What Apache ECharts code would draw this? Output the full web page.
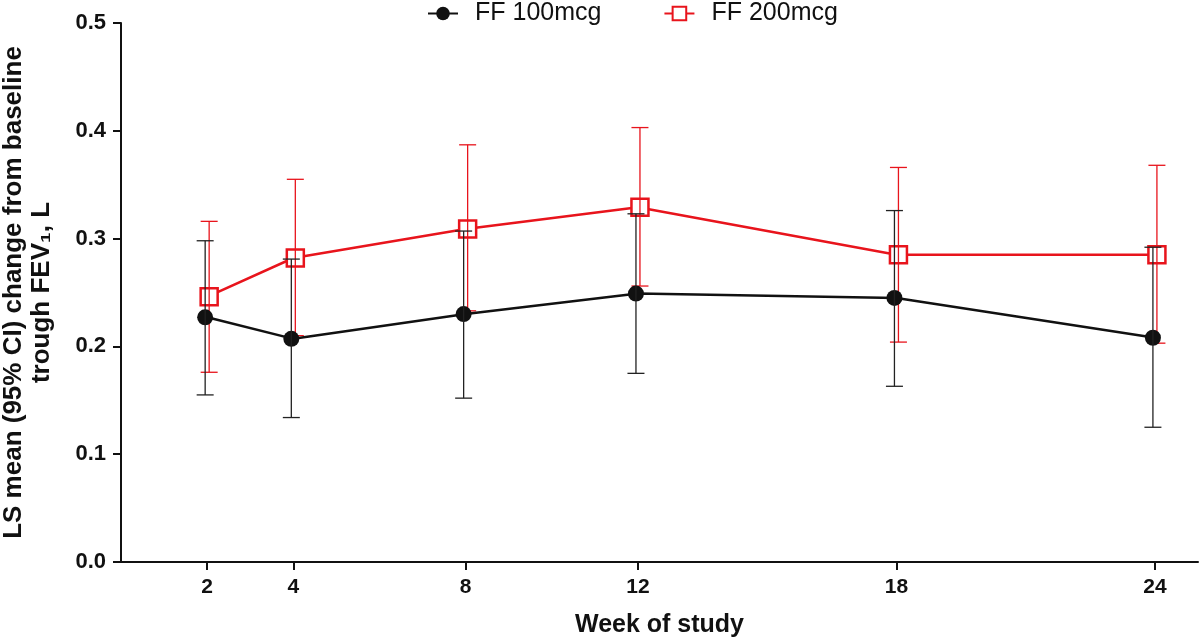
<!DOCTYPE html>
<html>
<head>
<meta charset="utf-8">
<script src="https://cdn.jsdelivr.net/npm/echarts@6/dist/echarts.min.js"></script>
<style>
html,body{margin:0;padding:0;background:#fff;}
#chart{width:1200px;height:644px;}
</style>
</head>
<body>
<div id="chart"></div>
<script>
const weeks = [2, 4, 8, 12, 18, 24];
const ff100Mean  = [0.227, 0.207, 0.230, 0.249, 0.245, 0.208];
const ff100Lower = [0.155, 0.134, 0.152, 0.175, 0.163, 0.125];
const ff100Upper = [0.298, 0.281, 0.307, 0.323, 0.326, 0.292];
const ff200Mean  = [0.246, 0.282, 0.309, 0.329, 0.285, 0.285];
const ff200Lower = [0.176, 0.210, 0.233, 0.256, 0.204, 0.203];
const ff200Upper = [0.316, 0.355, 0.387, 0.403, 0.366, 0.368];
const yTicks = [0.0, 0.1, 0.2, 0.3, 0.4, 0.5];

const FONT = '"Liberation Sans", Arial, Helvetica, sans-serif';
const RED = '#e8141c';
const BLACK = '#111';

function errRender(color, offset) {
  return function (params, api) {
    const lo = api.coord([api.value(0), api.value(1)]);
    const hi = api.coord([api.value(0), api.value(2)]);
    const cx = lo[0] + offset;
    const half = 8.5;
    const st = { stroke: color, lineWidth: 1.3 };
    return {
      type: 'group',
      children: [
        { type: 'line', shape: { x1: cx, y1: lo[1], x2: cx, y2: hi[1] }, style: st },
        { type: 'line', shape: { x1: cx - half, y1: hi[1], x2: cx + half, y2: hi[1] }, style: st },
        { type: 'line', shape: { x1: cx - half, y1: lo[1], x2: cx + half, y2: lo[1] }, style: st }
      ]
    };
  };
}

const chart = echarts.init(document.getElementById('chart'), null, { renderer: 'canvas' });
chart.setOption({
  animation: false,
  backgroundColor: '#fff',
  grid: { left: 121, right: 2, top: 23, bottom: 82, containLabel: false, outerBoundsMode: 'none' },
  legend: {
    data: ['FF 100mcg', 'FF 200mcg'],
    left: 422, top: -4,
    itemWidth: 30, itemHeight: 17, itemGap: 62,
    textStyle: { fontSize: 25, fontFamily: FONT, color: '#111', padding: [0, 0, 0, 12] }
  },
  xAxis: {
    type: 'value', min: 0, max: 25,
    name: 'Week of study', nameLocation: 'middle', nameGap: 51,
    nameTextStyle: { fontSize: 25, fontWeight: 'bold', fontFamily: FONT, color: '#111' },
    axisLine: { lineStyle: { color: '#111', width: 2 } },
    axisTick: { show: true, length: 8, lineStyle: { color: '#111', width: 2 }, customValues: weeks },
    axisLabel: { customValues: weeks, fontSize: 21, fontWeight: 'bold', fontFamily: FONT, color: '#111', margin: 15 },
    splitLine: { show: false }
  },
  yAxis: {
    type: 'value', min: 0, max: 0.5, interval: 0.1,
    name: 'LS mean (95% CI) change from baseline\ntrough FEV\u2081, L',
    nameLocation: 'middle', nameRotate: 90, nameGap: 65,
    nameTextStyle: { fontSize: 26, fontWeight: 'bold', fontFamily: FONT, color: '#111', lineHeight: 28 },
    axisLine: { show: true, lineStyle: { color: '#111', width: 2 } },
    axisTick: { show: true, length: 8, lineStyle: { color: '#111', width: 2 } },
    axisLabel: { fontSize: 22, fontWeight: 'bold', fontFamily: FONT, color: '#111', margin: 15,
      formatter: v => v.toFixed(1) },
    splitLine: { show: false }
  },
  series: [
    {
      name: 'FF 200mcg', type: 'line', z: 2,
      data: weeks.map((w, i) => [w, ff200Mean[i]]),
      symbol: 'rect', symbolSize: 17, symbolOffset: [2, 0],
      itemStyle: { color: '#fff', borderColor: RED, borderWidth: 2.5 },
      lineStyle: { color: RED, width: 2.5 }
    },
    {
      name: 'FF 200mcg CI', type: 'custom', z: 3,
      renderItem: errRender(RED, 2),
      encode: { x: 0, y: [1, 2] },
      data: weeks.map((w, i) => [w, ff200Lower[i], ff200Upper[i]])
    },
    {
      name: 'FF 100mcg', type: 'line', z: 4,
      data: weeks.map((w, i) => [w, ff100Mean[i]]),
      symbol: 'circle', symbolSize: 16, symbolOffset: [-2, 0],
      itemStyle: { color: BLACK, borderColor: BLACK, borderWidth: 0 },
      lineStyle: { color: BLACK, width: 2.5 }
    },
    {
      name: 'FF 100mcg CI', type: 'custom', z: 5,
      renderItem: errRender('#222', -2),
      encode: { x: 0, y: [1, 2] },
      data: weeks.map((w, i) => [w, ff100Lower[i], ff100Upper[i]])
    }
  ]
});
</script>
</body>
</html>
